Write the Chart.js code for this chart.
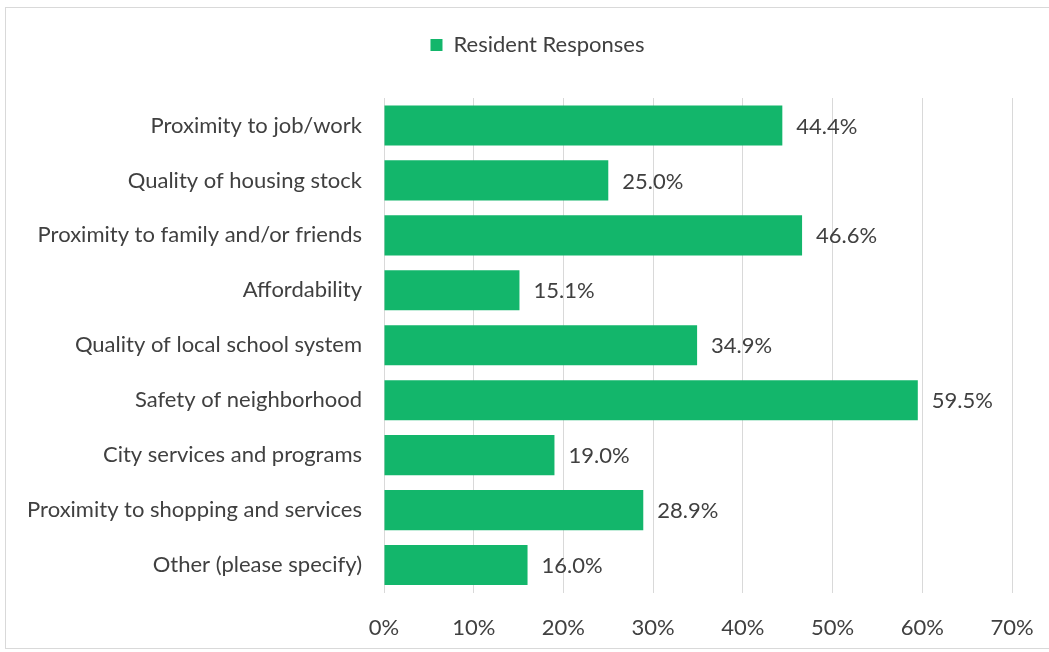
<!DOCTYPE html>
<html>
<head>
<meta charset="utf-8">
<script src="https://cdn.jsdelivr.net/npm/chart.js@4"></script>
<style>
  html, body { margin: 0; padding: 0; background: #fff; }
  #wrap { position: relative; width: 1049px; height: 652px; }
  #frame { position: absolute; left: 5px; top: 7px; width: 1060px; height: 640px; border: 1px solid #d9d9d9; }
  canvas { position: absolute; left: 0; top: 0; }
</style>
</head>
<body>
<div id="wrap">
  <div id="frame"></div>
  <canvas id="chart" width="1049" height="652"></canvas>
</div>
<script>
// categories and values
const categories = [
    'Proximity to job/work',
    'Quality of housing stock',
    'Proximity to family and/or friends',
    'Affordability',
    'Quality of local school system',
    'Safety of neighborhood',
    'City services and programs',
    'Proximity to shopping and services',
    'Other (please specify)'
];
const residentResponses = [44.4, 25.0, 46.6, 15.1, 34.9, 59.5, 19.0, 28.9, 16.0];
const xTicks = [0, 10, 20, 30, 40, 50, 60, 70];

const FONT = 'Lato, Calibri, sans-serif';
const TEXT = '#404040';
const SIZE = 22;

// draws the value labels at the end of each bar
const barLabels = {
    id: 'barLabels',
    afterDatasetsDraw(chart) {
        const ctx = chart.ctx;
        const meta = chart.getDatasetMeta(0);
        ctx.save();
        ctx.font = SIZE + 'px ' + FONT;
        ctx.fillStyle = TEXT;
        ctx.textAlign = 'left';
        ctx.textBaseline = 'middle';
        meta.data.forEach((bar, i) => {
            ctx.fillText(residentResponses[i].toFixed(1) + '%', bar.x + 14, bar.y + 1);
        });
        ctx.restore();
    }
};

// room under the legend, and nudge it to sit over the plot like the original
const legendTweak = {
    id: 'legendTweak',
    afterInit(chart) {
        const legend = chart.legend;
        const fit = legend.fit;
        legend.fit = function () {
            fit.call(this);
            this.height += 32;
        };
        const draw = legend.draw;
        legend.draw = function () {
            this.ctx.save();
            this.ctx.translate(13, 0);
            draw.call(this);
            this.ctx.restore();
        };
    }
};

new Chart(document.getElementById('chart'), {
    type: 'bar',
    data: {
        labels: categories,
        datasets: [{
            label: 'Resident Responses',
            data: residentResponses,
            backgroundColor: '#13b66b',
            borderWidth: 0,
            categoryPercentage: 1,
            barPercentage: 0.73
        }]
    },
    options: {
        indexAxis: 'y',
        responsive: false,
        animation: false,
        layout: { padding: { top: 22, right: 0, bottom: 0, left: 0 } },
        plugins: {
            legend: {
                position: 'top',
                labels: {
                    font: { family: FONT, size: SIZE },
                    color: TEXT,
                    boxWidth: 12,
                    boxHeight: 12,
                    padding: 12
                }
            },
            tooltip: { enabled: false }
        },
        scales: {
            x: {
                min: 0,
                max: 70,
                afterBuildTicks(scale) {
                    scale.ticks = xTicks.map(v => ({ value: v }));
                },
                afterFit(scale) {
                    scale.height = 59.5;
                    scale.paddingRight = 37;
                },
                ticks: {
                    font: { family: FONT, size: SIZE },
                    color: TEXT,
                    padding: 22,
                    callback: v => v + '%'
                },
                grid: { color: '#d9d9d9', drawTicks: false },
                border: { display: false }
            },
            y: {
                afterFit(scale) { scale.width = 384; },
                ticks: {
                    font: { family: FONT, size: SIZE },
                    color: TEXT,
                    padding: 22
                },
                grid: { display: false, drawTicks: false },
                border: { display: false }
            }
        }
    },
    plugins: [barLabels, legendTweak]
});
</script>
</body>
</html>
